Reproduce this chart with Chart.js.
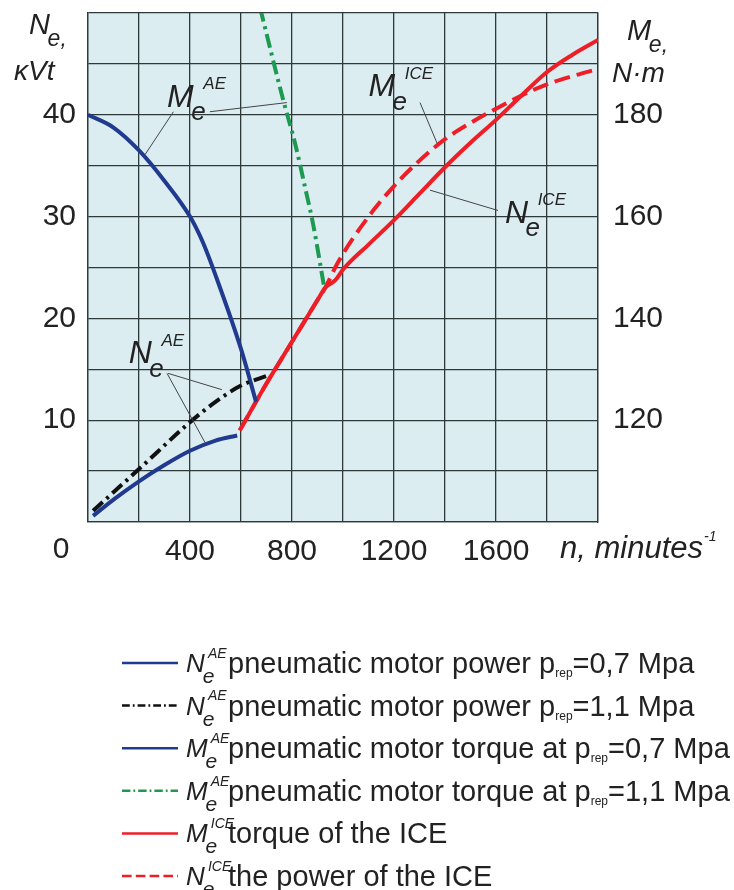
<!DOCTYPE html>
<html>
<head>
<meta charset="utf-8">
<script src="https://cdn.jsdelivr.net/npm/chart.js@4/dist/chart.umd.min.js"></script>
<style>
html, body { margin: 0; padding: 0; background: #fff; }
#wrap { width: 734px; height: 890px; position: relative; }
</style>
</head>
<body>
<div id="wrap"><canvas id="chart"></canvas></div>
<script>
// Tick labels
const xTicks = [400, 800, 1200, 1600];
const leftTicks = [10, 20, 30, 40];
const rightTicks = [120, 140, 160, 180];

// N_e^AE pneumatic motor power, p=0,7 MPa (kW)
const nAe07X = [20, 100, 200, 300, 400, 500, 585];
const nAe07Y = [0.6, 2.2, 4.0, 5.6, 7.0, 8.0, 8.5];
// N_e^AE pneumatic motor power, p=1,1 MPa (kW)
const nAe11X = [20, 200, 400, 500, 600, 706];
const nAe11Y = [1.1, 5.2, 9.8, 11.8, 13.4, 14.4];
// M_e^AE pneumatic motor torque, p=0,7 MPa (N·m)
const mAe07X = [0, 100, 200, 300, 400, 450, 500, 600, 659];
const mAe07Y = [180, 177.5, 173, 167, 160, 155, 148.5, 134, 123.6];
// M_e^AE pneumatic motor torque, p=1,1 MPa (N·m)
const mAe11X = [675, 765, 812, 851, 882, 925];
const mAe11Y = [201, 183, 174.4, 165.8, 158.7, 146.5];
// M_e^ICE torque of the ICE (N·m)
const mIceX = [595, 700, 800, 900, 930, 970, 1000, 1100, 1200, 1300, 1400, 1500, 1600, 1700, 1800, 1900, 2000];
const mIceY = [118, 127.2, 135.4, 143.6, 146, 147.5, 149.6, 154.5, 159.3, 164.5, 169.7, 174.5, 179, 183.8, 188.4, 191.8, 194.7];
// N_e^ICE power of the ICE (kW)
const nIceX = [595, 700, 800, 900, 930, 980, 1100, 1200, 1300, 1400, 1500, 1600, 1700, 1800, 1900, 2000];
const nIceY = [9.0, 13.6, 17.7, 21.8, 23.0, 25.5, 30.0, 33.0, 35.5, 37.6, 39.2, 40.6, 41.9, 43.0, 43.8, 44.5];

// Legend texts
const legSym = ['N', 'N', 'M', 'M', 'M', 'N'];
const legSup = ['AE', 'AE', 'AE', 'AE', 'ICE', 'ICE'];
const legText = ['pneumatic motor power p', 'pneumatic motor power p', 'pneumatic motor torque at p',
                 'pneumatic motor torque at p', 'torque of the ICE', 'the power of the ICE'];
const legTail = ['=0,7 Mpa', '=1,1 Mpa', '=0,7 Mpa', '=1,1 Mpa', '', ''];

// Curve labels in the plot: [symbol, sup, x (rpm), y (kW)] and leader lines [x1,y1,x2,y2]
const curveLabels = [
    ['M', 'AE', 310, 40.8],
    ['N', 'AE', 160, 15.6],
    ['M', 'ICE', 1100, 41.8],
    ['N', 'ICE', 1635, 29.4]
];
const leaders = [
    [335, 40.3, 224, 36.1],
    [478, 40.3, 780, 41.2],
    [314, 14.6, 525, 13.0],
    [310, 14.6, 459, 7.8],
    [1302, 41.2, 1369, 37.2],
    [1608, 30.6, 1341, 32.6]
];

const FONT = '"Liberation Sans", Arial, sans-serif';
const GRID = '#2e3a3a';

function pts(xs, ys) {
    return xs.map((x, i) => ({ x: x, y: ys[i] }));
}

function line(label, xs, ys, color, dash, axis) {
    return {
        label: label,
        data: pts(xs, ys),
        borderColor: color,
        backgroundColor: color,
        borderWidth: 4,
        borderDash: dash,
        pointRadius: 0,
        cubicInterpolationMode: 'monotone',
        yAxisID: axis
    };
}

// symbol with subscript e and superscript
function sym(ctx, x, y, main, sup, s, tail, supDx) {
    ctx.font = 'italic ' + s + 'px ' + FONT;
    ctx.fillText(main, x, y);
    const w = ctx.measureText(main).width;
    ctx.font = 'italic ' + Math.round(s * 0.8) + 'px ' + FONT;
    ctx.fillText('e' + (tail || ''), x + w - s * 0.08, y + s * 0.42);
    if (sup) {
        ctx.font = 'italic ' + Math.round(s * 0.52) + 'px ' + FONT;
        ctx.fillText(sup, x + w + s * (supDx == null ? 0.3 : supDx), y - s * 0.55);
    }
}

const noPad = s => { s.paddingTop = 0; s.paddingBottom = 0; };

const decor = {
    id: 'decor',
    beforeDraw(chart) {
        const { ctx, chartArea: a } = chart;
        ctx.save();
        ctx.fillStyle = '#dcedf2';
        ctx.fillRect(a.left, a.top, a.right - a.left, a.bottom - a.top);
        ctx.restore();
    },
    afterDatasetsDraw(chart) {
        const { ctx, chartArea: a } = chart;
        const sx = chart.scales.x, sy = chart.scales.y;
        ctx.save();
        ctx.fillStyle = '#222';
        ctx.textBaseline = 'alphabetic';
        ctx.textAlign = 'left';

        // leader lines
        ctx.strokeStyle = '#444';
        ctx.lineWidth = 1;
        leaders.forEach(l => {
            ctx.beginPath();
            ctx.moveTo(sx.getPixelForValue(l[0]), sy.getPixelForValue(l[1]));
            ctx.lineTo(sx.getPixelForValue(l[2]), sy.getPixelForValue(l[3]));
            ctx.stroke();
        });
        curveLabels.forEach(c => {
            sym(ctx, sx.getPixelForValue(c[2]), sy.getPixelForValue(c[3]), c[0], c[1], 32);
        });

        // axis titles
        sym(ctx, 29, 34, 'N', null, 29, ',');
        ctx.font = 'italic 28px ' + FONT;
        ctx.fillText('\u03BAVt', 14, 80);
        sym(ctx, 627, 40, 'M', null, 29, ',');
        ctx.font = 'italic 28px ' + FONT;
        ctx.fillText('N\u00B7m', 612, 82);

        // x title and origin label
        ctx.font = 'italic 31px ' + FONT;
        ctx.fillText('n, minutes', 560, 558);
        const tw = ctx.measureText('n, minutes').width;
        ctx.font = 'italic 14px ' + FONT;
        ctx.fillText('-1', 561 + tw, 541);
        ctx.font = '30px ' + FONT;
        ctx.textAlign = 'center';
        ctx.fillText('0', a.left - 27, 558);
        ctx.textAlign = 'left';

        // legend
        chart.data.datasets.forEach((ds, i) => {
            const yc = 663 + i * 42.6;
            ctx.strokeStyle = ds.borderColor;
            ctx.lineWidth = 2.5;
            ctx.setLineDash(ds.borderDash.map(d => d * 0.6));
            ctx.beginPath();
            ctx.moveTo(122, yc);
            ctx.lineTo(178, yc);
            ctx.stroke();
            ctx.setLineDash([]);
            ctx.fillStyle = '#222';
            sym(ctx, 186, yc + 9, legSym[i], legSup[i], 26, '', 0.12);
            ctx.font = '29px ' + FONT;
            ctx.fillText(legText[i], 228, yc + 10);
            let x = 228 + ctx.measureText(legText[i]).width;
            if (legTail[i]) {
                ctx.font = '12px ' + FONT;
                ctx.fillText('rep', x, yc + 14);
                x += ctx.measureText('rep').width;
                ctx.font = '29px ' + FONT;
                ctx.fillText(legTail[i], x, yc + 10);
            }
        });
        ctx.restore();
    }
};

const ctx = document.getElementById('chart').getContext('2d');
const chart = new Chart(ctx, {
    type: 'line',
    data: {
        datasets: [
            line('N_e^AE 0,7', nAe07X, nAe07Y, '#1f3a8e', [], 'y'),
            line('N_e^AE 1,1', nAe11X, nAe11Y, '#111111', [13, 5, 3, 5], 'y'),
            line('M_e^AE 0,7', mAe07X, mAe07Y, '#1f3a8e', [], 'y1'),
            line('M_e^AE 1,1', mAe11X, mAe11Y, '#1c9a50', [14, 5, 3, 5], 'y1'),
            line('M_e^ICE', mIceX, mIceY, '#ee1d26', [], 'y1'),
            line('N_e^ICE', nIceX, nIceY, '#ee1d26', [16, 7], 'y')
        ]
    },
    options: {
        responsive: true,
        maintainAspectRatio: false,
        animation: false,
        layout: { padding: { top: 13, left: 0, right: 0, bottom: 0 } },
        plugins: {
            legend: { display: false },
            tooltip: { enabled: false }
        },
        scales: {
            x: {
                type: 'linear',
                min: 0,
                max: 2000,
                afterFit: s => { s.height = 368; s.paddingLeft = 0; s.paddingRight = 0; },
                ticks: {
                    stepSize: 200,
                    autoSkip: false,
                    maxRotation: 0,
                    padding: 12,
                    color: '#222',
                    font: { size: 30, family: FONT },
                    callback: v => xTicks.includes(v) ? v : ''
                },
                grid: { color: GRID, lineWidth: 1.3, drawTicks: false },
                border: { color: GRID, width: 1.3 }
            },
            y: {
                position: 'left',
                min: 0,
                max: 50,
                afterFit: s => { s.width = 88; noPad(s); },
                ticks: {
                    stepSize: 5,
                    autoSkip: false,
                    padding: 12,
                    color: '#222',
                    font: { size: 30, family: FONT },
                    callback: v => leftTicks.includes(v) ? v : ''
                },
                grid: { color: GRID, lineWidth: 1.3, drawTicks: false },
                border: { color: GRID, width: 1.3 }
            },
            y1: {
                position: 'right',
                min: 100,
                max: 200,
                afterFit: s => { s.width = 136; noPad(s); },
                ticks: {
                    stepSize: 10,
                    autoSkip: false,
                    padding: 15,
                    color: '#222',
                    font: { size: 30, family: FONT },
                    callback: v => rightTicks.includes(v) ? v : ''
                },
                grid: { display: false, drawTicks: false },
                border: { color: GRID, width: 1.3 }
            }
        }
    },
    plugins: [decor]
});
</script>
</body>
</html>
